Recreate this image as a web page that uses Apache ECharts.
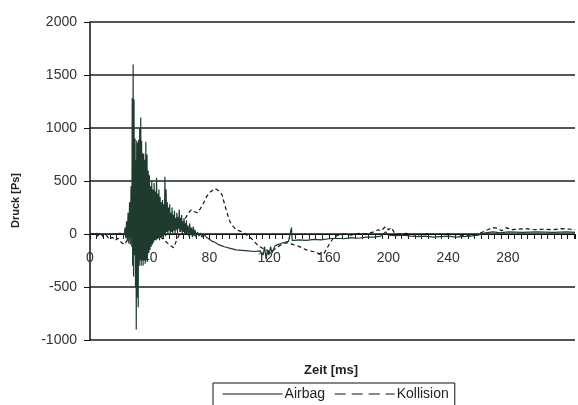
<!DOCTYPE html>
<html>
<head>
<meta charset="utf-8">
<script src="https://cdn.jsdelivr.net/npm/echarts@6/dist/echarts.min.js"></script>
<style>
  html, body { margin: 0; padding: 0; background: #fff; }
  #main { width: 578px; height: 405px; }
</style>
</head>
<body>
<div id="main"></div>
<script>
// Zeit in ms, Druck in Pa
var airbagTime = [
  0, 5, 10, 15, 20, 23,
  23.5, 24, 24.5, 25, 25.5, 26, 26.5, 27, 27.5, 28,
  28.3, 28.6, 28.9, 29.2, 29.5, 29.8, 30.2, 30.5, 30.8, 31,
  31.3, 31.6, 32, 32.3, 32.6, 33, 33.3, 33.6, 34, 34.3,
  34.6, 35, 35.3, 35.6, 36, 36.3, 36.6, 37, 37.4, 37.8,
  38.2, 38.6, 39, 39.4, 39.8, 40.2, 40.6, 41, 41.4, 41.8,
  42.2, 42.6, 43, 43.4, 43.8, 44.2, 44.6, 45, 45.4, 45.8,
  46.2, 46.6, 47, 47.4, 47.8, 48.2, 48.6, 49, 49.4, 49.8,
  50.2, 50.6, 51, 51.4, 51.8, 52.2, 52.6, 53, 53.4, 53.8,
  54.2, 54.6, 55, 55.4, 55.8, 56.2, 56.6, 57, 57.4, 57.8,
  58.2, 58.6, 59, 59.4, 59.8, 60.2, 60.6, 61, 61.4, 61.8,
  62.2, 62.6, 63, 63.4, 63.8, 64.2, 64.6, 65, 65.6, 66.2,
  66.8, 67.4, 68, 68.6, 69.2, 69.8, 70.4, 71, 72, 73,
  74, 75, 76, 78, 80, 82, 84, 86, 88, 90,
  94, 98, 102, 106, 110, 114, 116, 117, 118, 119,
  120, 121, 122, 124, 126, 128, 130, 133, 135, 135.5,
  137, 140, 145, 150, 155, 160, 165, 170, 175, 180,
  185, 190, 195, 198, 200, 205, 210, 215, 220, 225,
  230, 235, 240, 245, 250, 255, 260, 265, 270, 275,
  280, 290, 300, 310, 320, 325
];
var airbagValue = [
  0, 5, -5, 0, 5, 0,
  60, -40, 120, -60, 200, -90, 300, -100, 450, -120,
  1280, -300, 1600, -400, 1270, -200, 900, -500, 700, -900,
  880, -600, 860, -690, 890, -300, 1000, -250, 1100, -300,
  880, -250, 760, -300, 760, -250, 700, -280, 870, -250,
  750, -200, 600, -180, 555, -150, 450, -120, 500, -100,
  420, -80, 480, -60, 400, -60, 530, -50, 380, -40,
  420, -60, 350, -30, 300, -40, 320, -20, 280, 0,
  540, -20, 420, 20, 300, -10, 250, 30, 280, 0,
  200, 20, 250, 10, 180, 30, 220, 0, 150, 40,
  200, 10, 160, 50, 230, 20, 150, 40, 180, 0,
  120, 20, 150, 10, 100, -10, 130, 0, 80, -20,
  100, -10, 60, -30, 70, -20, 40, -30, 20, -20,
  10, -30, 0, -30, -50, -70, -80, -100, -110, -120,
  -135, -150, -155, -160, -165, -160, -200, -120, -240, -150,
  -200, -120, -180, -110, -100, -90, -80, -70, 60, -60,
  -60, -55, -60, -50, -55, -45, -40, -45, -35, -40,
  -30, -30, -20, 20, -10, -15, -10, -20, -25, -20,
  -30, -25, -20, -30, -25, -20, -10, 10, 20, 10,
  20, 15, 20, 15, 20, 15
];

var kollisionTime = [
  0, 3, 5, 7, 9, 11, 13, 15, 17, 19,
  21, 23, 25, 27, 30, 35, 40, 45, 50, 53,
  56, 58, 60, 62, 64, 66, 68, 70, 72, 74,
  76, 78, 80, 82, 83.5, 85, 87, 88.5, 90, 91,
  92.5, 94, 96, 98, 100, 102, 104, 106, 108, 110,
  112, 115, 118, 121, 124, 127, 130, 133, 136, 139,
  142, 145, 148, 151, 154, 157, 159, 161, 163, 166,
  170, 175, 180, 185, 190, 193, 195, 198, 200, 202,
  204, 207, 212, 218, 225, 232, 240, 248, 255, 260,
  265, 268, 270, 273, 276, 279, 282, 286, 292, 298,
  304, 310, 316, 322, 325
];
var kollisionValue = [
  0, 0, -20, 10, -30, -10, -50, -30, -60, -40,
  -80, -100, -60, -30, 0, 50, 30, 0, -60, -100,
  -130, -60, 0, 80, 150, 200, 230, 210, 200, 240,
  290, 350, 390, 410, 430, 420, 400, 370, 290, 240,
  170, 110, 70, 40, 30, 20, 0, -20, -40, -70,
  -100, -130, -150, -170, -140, -110, -90, -80, -100, -110,
  -130, -150, -160, -170, -190, -180, -130, -80, -40, -10,
  0, -10, 5, 0, 20, 40, 30, 70, 40, 60,
  10, 0, 5, -10, 0, -5, 0, -10, -20, 0,
  30, 50, 60, 55, 30, 60, 40, 45, 50, 40,
  45, 40, 50, 45, 40
];

var seriesNames = ['Airbag', 'Kollision'];
var yTicks = { min: -1000, max: 2000, step: 500 };
var xTicks = { min: 0, max: 325, step: 40, lastLabel: 280 };

function pairs(ts, vs) {
  return ts.map(function (t, i) { return [t, vs[i]]; });
}

var chart = echarts.init(document.getElementById('main'), null, { renderer: 'canvas' });

// plot area: top 22 .. 340, so the 0 line sits (0 - min) / (max - min) up from the bottom
var plotTop = 22, plotBottom = 340;
var zeroOffset = (plotBottom - plotTop) * (0 - yTicks.min) / (yTicks.max - yTicks.min);

var option = {
  animation: false,
  backgroundColor: '#fff',
  textStyle: { fontFamily: 'Liberation Sans, Arial, sans-serif' },
  grid: { left: 90, right: 0, top: plotTop, bottom: 405 - plotBottom, containLabel: false },
  xAxis: {
    type: 'value',
    min: xTicks.min,
    max: xTicks.max,
    interval: xTicks.step,
    offset: -zeroOffset,
    axisLine: { onZero: false, lineStyle: { color: '#111', width: 1 } },
    axisTick: { show: true, length: 5, lineStyle: { color: '#111' } },
    minorTick: { show: true, splitNumber: 9, length: 5, lineStyle: { color: '#222' } },
    axisLabel: {
      color: '#333',
      fontSize: 14,
      margin: 17,
      formatter: function (v) { return v > xTicks.lastLabel ? '' : String(v); }
    },
    splitLine: { show: false }
  },
  yAxis: {
    type: 'value',
    min: yTicks.min,
    max: yTicks.max,
    interval: yTicks.step,
    axisLine: { show: true, lineStyle: { color: '#111', width: 1.5 } },
    axisTick: { show: true, length: 6, lineStyle: { color: '#111' } },
    axisLabel: { color: '#333', fontSize: 14, margin: 13, formatter: function (v) { return String(v); } },
    splitLine: { show: true, lineStyle: { color: '#555', width: 2 } }
  },
  legend: {
    left: 213,
    top: 383,
    orient: 'horizontal',
    padding: [4, 6, 10, 9],
    itemWidth: 60,
    itemHeight: 12,
    itemGap: 9,
    borderColor: '#111',
    borderWidth: 1,
    textStyle: { color: '#222', fontSize: 14, padding: [0, 0, 0, -3] },
    itemStyle: { color: 'rgba(0,0,0,0)', borderWidth: 0, opacity: 0 },
    data: [
      { name: 'Airbag', lineStyle: { color: '#111', width: 1.2, type: 'solid', opacity: 1 } },
      { name: 'Kollision', lineStyle: { color: '#111', width: 1.2, type: [11, 6], opacity: 1 } }
    ]
  },
  graphic: [
    {
      type: 'text',
      left: 304,
      top: 364,
      style: { text: 'Zeit [ms]', font: 'bold 13px "Liberation Sans", Arial, sans-serif', fill: '#222' }
    },
    {
      type: 'text',
      x: 10,
      y: 228,
      rotation: Math.PI / 2,
      style: { text: 'Druck [Ps]', font: 'bold 11px "Liberation Sans", Arial, sans-serif', fill: '#222' }
    }
  ],
  series: [
    {
      name: seriesNames[1],
      type: 'line',
      symbol: 'none',
      data: pairs(kollisionTime, kollisionValue),
      lineStyle: { color: '#111', width: 1.2, type: [4, 3] },
      itemStyle: { color: '#111' },
      z: 3
    },
    {
      name: seriesNames[0],
      type: 'line',
      symbol: 'none',
      data: pairs(airbagTime, airbagValue),
      lineStyle: { color: '#1f3b2e', width: 1.2 },
      itemStyle: { color: '#1f3b2e' },
      z: 4
    }
  ]
};

chart.setOption(option);
</script>
</body>
</html>
